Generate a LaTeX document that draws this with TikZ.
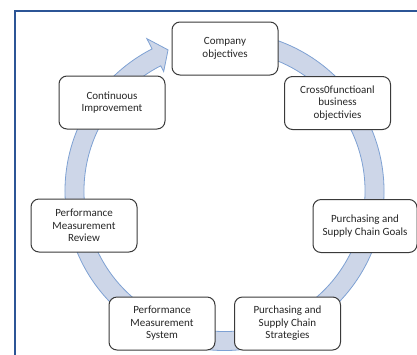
\documentclass[tikz,border=0pt]{standalone}
\usepackage{fontspec}
\setmainfont{Carlito}
\definecolor{framecol}{HTML}{2C5596}
\definecolor{ringfill}{HTML}{CDD6E8}
\definecolor{ringline}{HTML}{7EA1D3}
\definecolor{boxline}{HTML}{3A3A3A}
\begin{document}
\begin{tikzpicture}[x=1pt,y=-1pt,
  stage/.style={draw=boxline, line width=1pt, fill=white, rounded corners=8pt,
    minimum width=106pt, minimum height=53pt, align=center, inner sep=2pt,
    text=black!85, font=\fontsize{11}{12.5}\selectfont},
  ring/.style={fill=ringfill, draw=ringline, line width=0.8pt},
  frame/.style={draw=framecol, line width=2pt}]
\useasboundingbox (0,0) rectangle (417,354);
\clip (0,0) rectangle (417,354);
% outer panel border, running past the right and bottom edges
\draw[frame] (15,11) rectangle (440,380);
% cycle ring with its arrowhead pointing into the top stage
\coordinate (hub) at (224.5,191);
\begin{scope}[shift={(hub)}, x=1pt, y=1pt]
  \draw[ring] (100:159.5) arc[start angle=100, end angle=-243, radius=159.5]
    -- (-243:171) -- (-248.2:152) -- (-243:134) -- (-243:140.5)
    arc[start angle=-243, end angle=100, radius=140.5] -- cycle;
\end{scope}
% stages of the cycle
\node[stage] (co) at (225,48.5) {Company\\objectives};
\node[stage] (cf) at (337.5,103) {Cross0functioanl\\business\\objectivies};
\node[stage] (ci) at (112,102.5) {Continuous\\Improvement};
\node[stage] (pr) at (84,225.5) {Performance\\Measurement\\Review};
\node[stage, minimum width=104pt] (pg) at (365,226) {Purchasing and\\Supply Chain Goals};
\node[stage] (ps) at (162,323.5) {Performance\\Measurement\\System};
\node[stage] (st) at (287.5,323.5) {Purchasing and\\Supply Chain\\Strategies};
\end{tikzpicture}
\end{document}
